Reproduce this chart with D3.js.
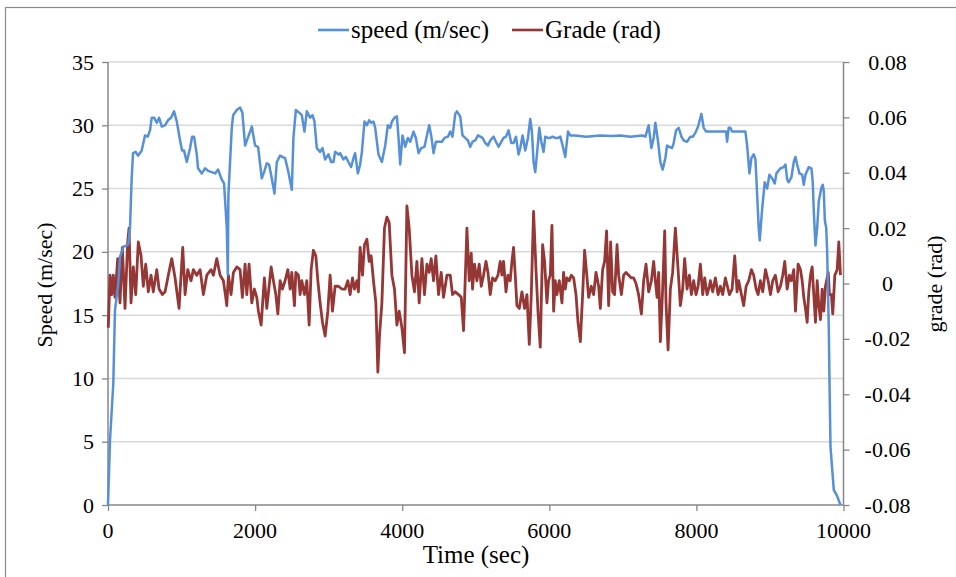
<!DOCTYPE html>
<html><head><meta charset="utf-8">
<script src="https://cdn.jsdelivr.net/npm/d3@7"></script>
<style>body{margin:0;background:#fff}svg{display:block}</style>
</head><body>
<svg id="c" width="956" height="577"></svg>
<script>
const timeTicks = [0,2000,4000,6000,8000,10000];
const speedTicks = [0,5,10,15,20,25,30,35];
const gradeTicks = [-0.08,-0.06,-0.04,-0.02,0,0.02,0.04,0.06,0.08];
const seriesNames = ["speed (m/sec)","Grade (rad)"];
const seriesColors = ["#5590d8","#953735"];

const speedPoints = [[0,0],[27,5.1],[72,9.6],[95,15.4],[140,17.5],[163,19.6],[208,20.4],[254,20.5],[276,20.6],[299,21.9],[322,25.8],[340,27.8],[377,27.9],[408,27.6],[458,28.0],[503,29.2],[540,29.1],[571,29.6],[595,30.6],[626,30.6],[663,30.2],[694,30.6],[731,29.9],[776,30.0],[816,30.4],[857,30.6],[898,31.1],[935,30.3],[980,28.8],[1007,28.0],[1034,28.0],[1071,27.1],[1116,28.2],[1143,29.1],[1170,29.1],[1207,27.7],[1224,26.6],[1275,26.2],[1320,26.6],[1361,26.4],[1411,26.3],[1456,26.2],[1497,26.5],[1547,25.7],[1578,25.4],[1615,21.9],[1629,18.2],[1637,24.5],[1683,29.8],[1701,30.8],[1751,31.2],[1796,31.4],[1827,31.0],[1864,28.4],[1901,29.0],[1932,29.5],[1955,29.9],[2000,28.4],[2041,28.3],[2091,25.8],[2122,26.3],[2159,27.0],[2190,26.9],[2227,25.8],[2263,24.6],[2295,27.1],[2340,27.6],[2371,27.5],[2408,27.4],[2453,26.3],[2499,24.9],[2521,29.0],[2554,31.2],[2599,31.0],[2635,30.8],[2671,29.5],[2703,31.1],[2748,30.6],[2780,30.8],[2807,30.3],[2839,28.2],[2884,27.9],[2916,28.2],[2952,27.3],[2997,27.7],[3034,27.1],[3065,27.1],[3088,27.9],[3133,27.7],[3156,27.8],[3201,27.3],[3234,27.5],[3269,27.1],[3306,26.7],[3337,27.4],[3360,27.8],[3397,26.2],[3428,26.9],[3452,27.9],[3487,30.3],[3520,30.0],[3551,30.4],[3578,30.2],[3609,30.3],[3633,29.8],[3677,27.7],[3724,27.1],[3769,28.4],[3805,30.0],[3837,29.8],[3860,30.3],[3895,30.6],[3928,30.7],[3950,29.0],[3973,26.9],[4004,29.2],[4041,28.3],[4077,29.0],[4109,28.7],[4154,29.5],[4186,29.0],[4222,27.8],[4258,28.2],[4303,28.3],[4336,29.2],[4367,30.0],[4394,29.2],[4426,27.8],[4458,28.7],[4494,28.7],[4540,28.7],[4575,29.0],[4622,29.1],[4653,29.5],[4684,29.1],[4721,30.9],[4744,31.1],[4789,30.7],[4820,29.2],[4857,29.0],[4894,28.8],[4925,28.3],[4956,28.7],[4993,28.8],[5030,29.2],[5061,29.1],[5092,29.0],[5129,28.6],[5166,28.4],[5197,28.8],[5242,29.1],[5275,28.7],[5310,28.3],[5347,28.7],[5378,29.0],[5411,29.1],[5446,29.6],[5483,28.6],[5514,28.6],[5547,29.1],[5582,27.7],[5605,28.2],[5637,29.2],[5673,28.0],[5710,29.0],[5741,30.5],[5764,29.5],[5786,27.1],[5809,26.3],[5832,27.7],[5864,29.8],[5891,28.7],[5922,27.9],[5945,29.1],[5982,29.0],[6013,29.0],[6045,29.1],[6081,29.0],[6118,29.0],[6150,29.1],[6181,28.4],[6217,27.5],[6254,29.5],[6285,29.2],[6353,29.2],[6500,29.1],[6694,29.2],[6850,29.15],[6966,29.2],[7100,29.1],[7265,29.2],[7306,29.1],[7351,30.0],[7388,28.2],[7419,29.0],[7442,30.2],[7479,28.7],[7510,27.1],[7541,26.5],[7578,27.4],[7601,28.4],[7632,28.3],[7669,28.2],[7691,28.6],[7724,29.6],[7759,29.8],[7796,29.1],[7827,28.8],[7873,28.7],[7918,29.1],[7950,29.1],[7986,29.4],[8023,29.9],[8045,30.4],[8068,30.9],[8099,29.8],[8132,29.5],[8349,29.5],[8404,29.5],[8417,28.7],[8439,29.8],[8462,29.8],[8485,29.5],[8666,29.5],[8690,28.4],[8721,26.2],[8748,27.4],[8779,27.7],[8803,27.3],[8826,24.5],[8847,21.9],[8861,20.9],[8894,23.4],[8929,25.5],[8962,25.0],[8993,26.1],[9030,25.8],[9065,25.4],[9088,26.2],[9143,26.6],[9187,26.7],[9211,26.9],[9234,25.7],[9255,25.5],[9292,25.9],[9324,27.1],[9347,27.5],[9370,26.9],[9401,26.2],[9438,26.1],[9460,25.3],[9483,26.1],[9528,26.7],[9564,26.6],[9582,25.5],[9596,23.2],[9619,20.5],[9642,21.9],[9664,24.0],[9701,25.1],[9718,25.3],[9732,24.8],[9746,22.5],[9765,21.9],[9778,20.0],[9800,14.0],[9809,10.0],[9823,4.6],[9868,1.2],[9914,0.7],[9959,0]];

const gradePoints = [[4,-0.016],[27,0.003],[50,-0.004],[72,0.003],[95,-0.005],[132,0.009],[163,-0.007],[195,0.013],[231,-0.009],[268,0.015],[286,0.020],[313,-0.007],[344,0.006],[377,-0.004],[412,0.015],[449,0.010],[480,-0.001],[513,0.007],[548,-0.003],[585,0.003],[616,-0.003],[663,0.005],[694,-0.002],[739,-0.004],[776,-0.003],[820,0.003],[867,0.009],[912,0.002],[966,-0.009],[1016,0.013],[1048,-0.004],[1084,0.005],[1129,0.001],[1161,0.005],[1207,0.003],[1252,0.005],[1297,-0.004],[1343,0.003],[1401,0.005],[1433,0.003],[1479,0.009],[1524,0.003],[1569,0.001],[1601,-0.005],[1615,-0.008],[1637,0.003],[1673,-0.004],[1705,0.004],[1751,0.006],[1796,0.005],[1827,-0.005],[1864,0.007],[1887,-0.004],[1918,0.007],[1955,-0.007],[1990,-0.002],[2023,-0.005],[2045,-0.010],[2082,-0.015],[2126,0.002],[2159,-0.009],[2190,-0.001],[2218,0.006],[2249,0.001],[2282,-0.004],[2309,-0.011],[2340,0.001],[2371,-0.002],[2408,0.001],[2445,0.005],[2476,-0.002],[2499,0.004],[2535,-0.008],[2554,0.004],[2589,0.003],[2612,-0.004],[2635,0.001],[2671,-0.004],[2703,0.001],[2735,-0.015],[2762,0.005],[2793,0.012],[2826,0.010],[2853,0.001],[2884,-0.007],[2916,-0.014],[2952,-0.019],[2989,-0.010],[3020,0.003],[3052,-0.010],[3088,-0.001],[3133,-0.001],[3179,-0.002],[3224,-0.002],[3261,0.001],[3292,-0.004],[3324,0.002],[3351,-0.002],[3384,0.001],[3405,-0.003],[3428,0.013],[3460,0.003],[3487,0.014],[3520,0.016],[3551,0.008],[3578,0.010],[3609,0.001],[3642,-0.007],[3669,-0.032],[3691,-0.019],[3724,-0.007],[3759,0.020],[3792,0.024],[3823,0.022],[3860,0.003],[3895,-0.002],[3928,-0.015],[3959,-0.010],[3996,-0.016],[4031,-0.025],[4064,0.028],[4095,0.020],[4132,0.003],[4167,-0.003],[4200,0.008],[4231,-0.007],[4268,0.009],[4303,-0.004],[4336,0.007],[4367,0.004],[4394,0.009],[4426,0.001],[4458,0.010],[4494,-0.004],[4530,0.004],[4562,-0.005],[4608,0.003],[4653,0.003],[4684,-0.004],[4721,-0.003],[4766,-0.004],[4803,-0.005],[4834,-0.017],[4880,0.020],[4911,0.001],[4939,0.011],[4956,-0.002],[4983,0.007],[5016,0.001],[5047,0.007],[5075,-0.001],[5106,0.003],[5139,0.008],[5166,0.004],[5197,-0.004],[5228,0.002],[5265,0.001],[5302,0.003],[5333,0.008],[5356,0.003],[5378,0.008],[5411,-0.003],[5438,0.003],[5469,0.001],[5492,0.008],[5514,0.013],[5537,0.003],[5560,-0.008],[5592,-0.009],[5628,-0.003],[5664,-0.009],[5696,-0.004],[5728,-0.022],[5755,-0.004],[5786,0.026],[5819,0.005],[5846,-0.010],[5877,-0.023],[5909,0.014],[5936,0.008],[5968,-0.007],[5990,0.001],[6013,0.003],[6036,0.021],[6059,-0.010],[6081,0.001],[6104,-0.004],[6136,0.001],[6172,-0.007],[6194,0.004],[6217,-0.002],[6240,0.002],[6272,0.001],[6299,0.003],[6331,0.002],[6363,-0.004],[6390,-0.014],[6422,-0.021],[6453,-0.004],[6480,0.012],[6513,0.002],[6535,-0.005],[6571,-0.001],[6603,-0.004],[6635,0.004],[6671,-0.001],[6694,-0.009],[6725,0.005],[6752,0.008],[6779,0.019],[6807,-0.008],[6834,0.015],[6861,-0.003],[6888,-0.004],[6921,0.014],[6943,0.003],[6980,-0.004],[7011,0.003],[7043,0.004],[7079,0.003],[7115,0.002],[7147,0.002],[7179,0.000],[7214,-0.004],[7252,-0.011],[7283,0.001],[7315,0.007],[7351,-0.003],[7388,0.001],[7419,0.008],[7442,0.001],[7465,-0.005],[7487,0.004],[7510,-0.021],[7541,-0.002],[7569,0.019],[7587,-0.007],[7615,-0.024],[7646,-0.002],[7677,0.004],[7714,0.020],[7751,0.005],[7782,-0.008],[7813,-0.002],[7840,0.009],[7873,-0.002],[7905,0.003],[7932,-0.004],[7963,0.001],[7995,-0.004],[8023,-0.001],[8054,0.007],[8086,-0.004],[8113,0.002],[8145,-0.004],[8177,-0.001],[8190,0.001],[8221,-0.003],[8258,0.002],[8295,-0.004],[8326,-0.001],[8358,-0.004],[8394,0.002],[8449,-0.004],[8485,-0.002],[8521,0.010],[8553,-0.003],[8575,0.001],[8612,-0.004],[8643,-0.008],[8676,-0.001],[8711,0.001],[8748,0.005],[8779,0.003],[8812,-0.002],[8839,-0.004],[8870,0.001],[8902,-0.003],[8939,0.005],[8975,0.001],[9007,-0.004],[9038,0.001],[9074,0.003],[9111,-0.003],[9143,-0.001],[9174,0.003],[9201,0.008],[9234,-0.002],[9265,0.003],[9292,0.001],[9324,0.005],[9347,-0.010],[9383,0.007],[9415,0.005],[9438,0.001],[9460,-0.005],[9483,-0.009],[9506,-0.014],[9528,-0.003],[9551,0.003],[9574,0.006],[9596,-0.004],[9619,-0.014],[9642,0.001],[9664,-0.008],[9687,-0.013],[9710,-0.002],[9732,-0.010],[9755,-0.001],[9792,0.004],[9809,-0.004],[9836,-0.004],[9854,-0.011],[9882,0.003],[9914,0.005],[9936,0.015],[9959,0.003]];

const FONT = '"Liberation Serif", "Times New Roman", serif';
const svg = d3.select("#c");
const L = 108, R = 843.5, T = 62, B = 505;
const x = d3.scaleLinear().domain([0,10000]).range([L,R]);
const yS = d3.scaleLinear().domain([0,35]).range([B,T]);
const yG = d3.scaleLinear().domain([-0.08,0.08]).range([B,T]);

svg.append("rect").attr("x",5.5).attr("y",7.5).attr("width",1000).attr("height",1000)
  .attr("fill","none").attr("stroke","#8c8c8c").attr("stroke-width",1.2);

svg.append("g").selectAll("line").data(speedTicks.filter(d=>d>0)).join("line")
  .attr("x1",L).attr("x2",R).attr("y1",d=>yS(d)).attr("y2",d=>yS(d))
  .attr("stroke","#d9d9d9").attr("stroke-width",1.5);

const gl = svg.append("g").attr("transform",`translate(${L},0)`)
  .call(d3.axisLeft(yS).tickValues(speedTicks).tickSize(6).tickFormat(""));
const gr = svg.append("g").attr("transform",`translate(${R},0)`)
  .call(d3.axisRight(yG).tickValues(gradeTicks).tickSize(6).tickFormat(""));
const gb = svg.append("g").attr("transform",`translate(0,${B})`)
  .call(d3.axisBottom(x).tickValues(timeTicks).tickSize(6).tickFormat(""));
[gl,gr,gb].forEach(g=>{
  g.selectAll(".domain").attr("stroke","#868686").attr("stroke-width",1.5);
  g.selectAll(".tick line").attr("stroke","#868686").attr("stroke-width",1.3);
  g.selectAll(".tick text").remove();
});
gl.select(".domain").attr("d",`M0,${B}V${T}`);
gr.select(".domain").attr("d",`M0,${B}V${T}`);
gb.select(".domain").attr("d",`M${L},0H${R}`);

function label(x0,y0,s,size,anchor){
  return svg.append("text").attr("x",x0).attr("y",y0).attr("text-anchor",anchor||"start")
    .style("font-family",FONT).style("font-size",size+"px").attr("fill","#000").text(s);
}
speedTicks.forEach(d=>label(L-14, yS(d)+7.5, d3.format("d")(d), 22, "end"));
gradeTicks.forEach(d=>label(R+44, yG(d)+7.5, d===0?"0":d3.format(".2f")(d).replace("\u2212","-"), 22, "middle"));
timeTicks.forEach(d=>label(x(d), B+33, d3.format("d")(d), 22, "middle"));

const lineG = d3.line().x(d=>x(d[0])).y(d=>yG(d[1]));
const lineS = d3.line().x(d=>x(d[0])).y(d=>yS(d[1]));
svg.append("path").datum(gradePoints).attr("d",lineG).attr("fill","none")
  .attr("stroke",seriesColors[1]).attr("stroke-width",2.8).attr("stroke-linejoin","round");
svg.append("path").datum(speedPoints).attr("d",lineS).attr("fill","none")
  .attr("stroke",seriesColors[0]).attr("stroke-width",2.5).attr("stroke-linejoin","round");

label(476,563,"Time (sec)",25,"middle");
label(0,0,"Speed (m/sec)",22,"middle").attr("transform","translate(52,285) rotate(-90)");
label(0,0,"grade (rad)",22,"middle").attr("transform","translate(942,284) rotate(-90)");

const legendItems = [{x:318, name:seriesNames[0], c:seriesColors[0]},{x:512, name:seriesNames[1], c:seriesColors[1]}];
legendItems.forEach(it=>{
  svg.append("line").attr("x1",it.x).attr("x2",it.x+31).attr("y1",30).attr("y2",30).attr("stroke",it.c).attr("stroke-width",2.6);
  label(it.x+33,38,it.name,25,"start");
});
</script>
</body></html>
